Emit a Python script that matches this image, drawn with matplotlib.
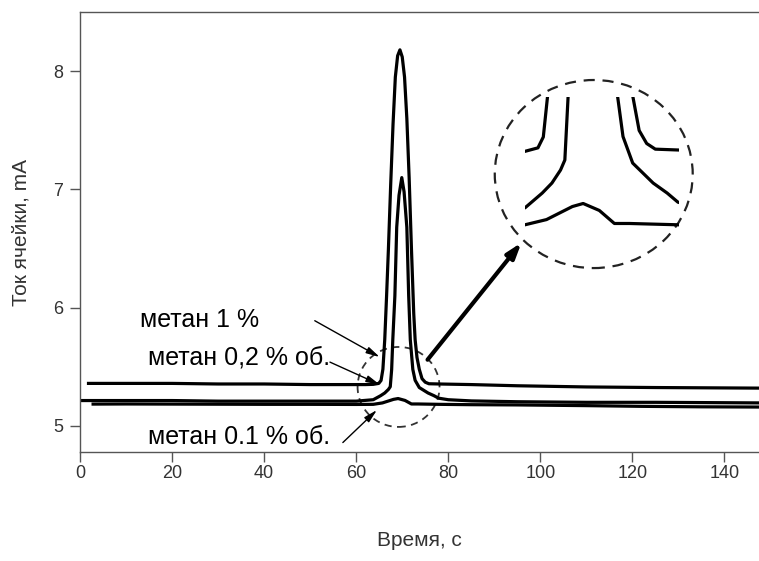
import matplotlib
matplotlib.use("Agg")
import matplotlib.pyplot as plt
from matplotlib.patches import Ellipse

plt.rcParams['font.family'] = ['Liberation Sans', 'DejaVu Sans']

# ---- data ----
t_1 = [1.5, 10, 20, 30, 40, 50, 58, 62, 63.7, 64.9, 65.4, 65.8, 66.2, 66.6, 67.0, 67.5,
       68.0, 68.5, 69.0, 69.5, 70.0, 70.5, 71.0, 71.5, 72.0, 72.5, 72.8, 73.2, 73.7,
       74.3, 75.0, 75.8, 78, 85, 95, 110, 125, 148]
v_1 = [5.36, 5.36, 5.36, 5.355, 5.355, 5.35, 5.35, 5.35, 5.352, 5.36, 5.385, 5.48, 5.73,
       6.1, 6.5, 7.05, 7.55, 7.95, 8.13, 8.18, 8.12, 7.95, 7.6, 7.1, 6.5, 5.95, 5.73, 5.58,
       5.48, 5.40, 5.37, 5.357, 5.355, 5.35, 5.34, 5.33, 5.325, 5.32]

t_02 = [0, 10, 20, 30, 40, 50, 60, 63.7, 65.3, 66.2, 67.0, 67.4, 67.7, 67.95, 68.4, 68.8,
        69.3, 69.9, 70.4, 71.0, 71.4, 71.75, 72.3, 72.8, 73.7, 75.6, 76.9, 77.9, 80, 85,
        95, 110, 125, 148]
v_02 = [5.215, 5.215, 5.215, 5.21, 5.21, 5.21, 5.21, 5.222, 5.256, 5.279, 5.309, 5.332,
        5.477, 5.73, 6.1, 6.68, 6.95, 7.1, 6.98, 6.68, 6.1, 5.73, 5.478, 5.386, 5.325,
        5.279, 5.256, 5.235, 5.222, 5.212, 5.205, 5.2, 5.2, 5.195]

t_01 = [2.5, 10, 20, 30, 40, 50, 60, 63.7, 65.7, 66.9, 68.1, 69.1, 70.6, 72.0, 73.4, 77.9,
        85, 95, 110, 122, 135, 148]
v_01 = [5.185, 5.186, 5.185, 5.184, 5.183, 5.183, 5.182, 5.183, 5.195, 5.21, 5.225, 5.232,
        5.216, 5.186, 5.186, 5.183, 5.18, 5.178, 5.172, 5.166, 5.162, 5.16]

x_ticks = [0, 20, 40, 60, 80, 100, 120, 140]
y_ticks = [5, 6, 7, 8]
labels = ['метан 1 %', 'метан 0,2 % об.', 'метан 0.1 % об.']

W, H = 759, 561
fig = plt.figure(figsize=(W / 100, H / 100), dpi=100)
ax = fig.add_axes([80 / W, (H - 452) / H, (W - 80) / W, (452 - 12) / H])

lw = 2.3
for t, v in [(t_1, v_1), (t_02, v_02), (t_01, v_01)]:
    ax.plot(t, v, color='black', lw=lw, solid_capstyle='butt')

ax.set_xlim(0, 147.5)
ax.set_ylim(4.78, 8.5)
ax.set_xticks(x_ticks)
ax.set_yticks(y_ticks)
spine_c = '#555555'
for s in ['left', 'top', 'bottom']:
    ax.spines[s].set_color(spine_c)
    ax.spines[s].set_linewidth(1.0)
ax.spines['right'].set_visible(False)
ax.tick_params(direction='out', length=7, width=1, color=spine_c,
               labelsize=13, labelcolor='#333333', pad=2)
ax.tick_params(axis='y', pad=5)
ax.set_xlabel('Время, с', fontsize=15, color='#333333', labelpad=36)
ax.set_ylabel('Ток ячейки, mA', fontsize=15, color='#333333', labelpad=16)

# annotations
fs = 18
ax.text(13, 5.9, labels[0], fontsize=fs, va='center', ha='left')
ax.text(14.8, 5.575, labels[1], fontsize=fs, va='center', ha='left')
ax.text(14.8, 4.91, labels[2], fontsize=fs, va='center', ha='left')

thin = dict(arrowstyle='-|>,head_length=0.8,head_width=0.2', lw=1.0, color='black',
            shrinkA=0, shrinkB=0)
ax.annotate('', xy=(65.1, 5.583), xytext=(51, 5.89), arrowprops=thin)
ax.annotate('', xy=(65.1, 5.35), xytext=(54.3, 5.54), arrowprops=thin)
ax.annotate('', xy=(64.5, 5.135), xytext=(57.1, 4.86), arrowprops=thin)

thick = dict(arrowstyle='-|>,head_length=0.9,head_width=0.3', lw=3.0, color='black',
             shrinkA=0, shrinkB=0)
ax.annotate('', xy=(95.9, 6.55), xytext=(75.5, 5.56), arrowprops=thick)

ax.add_patch(Ellipse((69.2, 5.33), 17.8, 0.676, fill=False, ls=(0, (4, 3)),
                     lw=1.3, edgecolor='#333333'))
ax.add_patch(Ellipse((111.6, 7.13), 43.0, 1.59, fill=False, ls=(0, (5, 3.5)),
                     lw=1.6, edgecolor='#222222'))

# magnified inset (same data)
ins = fig.add_axes([525 / W, (H - 240) / H, 154 / W, 143 / H])
for t, v in [(t_1, v_1), (t_02, v_02), (t_01, v_01)]:
    ins.plot(t, v, color='black', lw=2.3)
ins.set_xlim(63.7, 78)
ins.set_ylim(5.148, 5.477)
ins.axis('off')
ins.patch.set_alpha(0)

fig.savefig('out.png', dpi=100)
